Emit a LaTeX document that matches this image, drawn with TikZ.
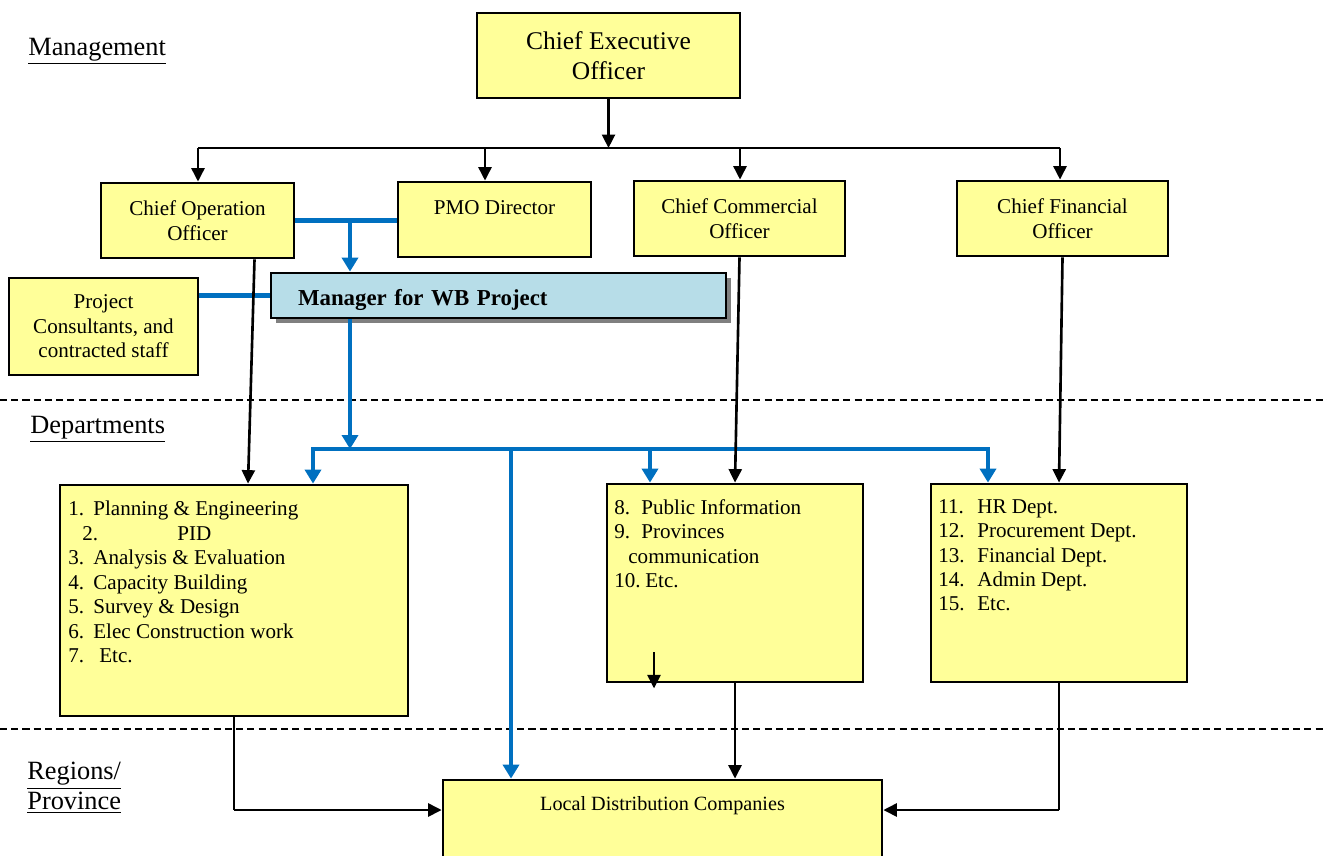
\documentclass[tikz,border=0pt]{standalone}
\usepackage{fontspec}
\setmainfont{Liberation Serif}
\usepackage{tikz}
\usetikzlibrary{arrows.meta,positioning,calc,shadows}
\definecolor{boxyellow}{HTML}{FFFF99}
\definecolor{wbblue}{HTML}{0070C0}
\definecolor{mgrblue}{HTML}{B7DDE8}
\newcommand{\itm}[2][0.5cm]{\makebox[#1][l]{#2}}

\begin{document}
\begin{tikzpicture}[x=0.02cm, y=-0.02cm,
  box/.style={rectangle, draw=black, line width=1.6pt, fill=boxyellow, align=center, inner sep=0pt},
  bigtxt/.style={font=\fontsize{14.5}{17}\selectfont},
  txt/.style={font=\fontsize{12}{14}\selectfont},
  lvl/.style={font=\fontsize{15}{17}\selectfont, anchor=west, inner sep=0pt},
  list/.style={font=\fontsize{12}{13.9}\selectfont, anchor=north west, align=left, inner sep=0pt},
  arrow/.style={-{Triangle[length=2.7mm,width=2.6mm]}, line width=1.5pt, draw=black},
  barrow/.style={-{Triangle[length=2.8mm,width=3.2mm]}, line width=2.8pt, draw=wbblue},
  bline/.style={line width=2.8pt, draw=wbblue},
  thinline/.style={line width=0.6pt, draw=black},
  sepline/.style={line width=1.6pt, dash pattern=on 4pt off 2.4pt}
]
\useasboundingbox (0,0) rectangle (1327,855);
\clip (0,0) rectangle (1327,855);

% level labels
\node[lvl] (mg) at (28,51) {\underline{Management}};
\node[lvl] (dp) at (30,429) {\underline{Departments}};
\node[lvl, align=left] (rg) at (27,788) {\underline{Regions/}\\\underline{Province}};

% separators
\draw[sepline] (0,400) -- (1327,400);
\draw[sepline] (0,729) -- (1327,729);

% management boxes
\node[box, bigtxt, minimum width=5.26cm, minimum height=1.7cm] (ceo) at (608.5,55.5) {Chief Executive\\Officer};
\node[box, txt, minimum width=3.86cm, minimum height=1.5cm] (coo) at (197.5,220.5) {Chief Operation\\Officer};
\node[box, txt, minimum width=3.86cm, minimum height=1.5cm] (pmo) at (494.5,219.5) {PMO Director\\\mbox{}};
\node[box, txt, minimum width=4.22cm, minimum height=1.5cm] (cco) at (739.5,218.5) {Chief Commercial\\Officer};
\node[box, txt, minimum width=4.22cm, minimum height=1.5cm] (cfo) at (1062.5,218.5) {Chief Financial\\Officer};
\node[box, txt, minimum width=3.78cm, minimum height=1.94cm] (cons) at (103.5,326.5) {Project\\Consultants, and\\contracted staff};
\node[box, fill=mgrblue, minimum width=9.1cm, minimum height=0.9cm, text width=8.02cm, align=left,
  font=\fontsize{13}{15}\selectfont\bfseries,
  drop shadow={shadow xshift=0.1cm, shadow yshift=-0.1cm, fill=black!50, opacity=1}] (mgr) at (498.5,295.5) {\raisebox{-0.2cm}[0pt][0pt]{Manager for WB Project}};

% departments
\node[box, minimum width=6.96cm, minimum height=4.62cm] (d1) at (234,600.5) {};
\node[box, minimum width=5.12cm, minimum height=3.96cm] (d2) at (735,583) {};
\node[box, minimum width=5.12cm, minimum height=3.96cm] (d3) at (1059,583) {};
\node[list] (d1t) at (68,501) {\itm{1.}Planning \& Engineering\\
  \hspace*{0.28cm}\itm[1.9cm]{2.}PID\\
  \itm{3.}Analysis \& Evaluation\\
  \itm{4.}Capacity Building\\
  \itm{5.}Survey \& Design\\
  \itm{6.}Elec Construction work\\
  \itm{7.}\hspace*{0.12cm}Etc.};
\node[list] (d2t) at (614,499) {\itm[0.54cm]{8.}Public Information\\
  \itm[0.54cm]{9.}Provinces\\
  \hspace*{0.28cm}communication\\
  \itm[0.62cm]{10.}Etc.};
\node[list] (d3t) at (938,499) {\itm[0.78cm]{11.}HR Dept.\\
  \itm[0.78cm]{12.}Procurement Dept.\\
  \itm[0.78cm]{13.}Financial Dept.\\
  \itm[0.78cm]{14.}Admin Dept.\\
  \itm[0.78cm]{15.}Etc.};

% regions
\node[box, minimum width=8.78cm, minimum height=1.8cm] (ldc) at (662.5,825) {};
\node[font=\fontsize{11.5}{13}\selectfont, inner sep=0pt] (ldct) at (662.5,806) {Local Distribution Companies};

% CEO to officers
\coordinate (bl) at (198,148);
\coordinate (b2) at (485,148);
\coordinate (b3) at (740,148);
\coordinate (br) at (1060,148);
\draw[arrow] (ceo.south) -- (ceo.south |- bl);
\draw[thinline] (bl) -- (br);
\draw[arrow] (bl) -- (bl |- coo.north);
\draw[arrow] (b2) -- (b2 |- pmo.north);
\draw[arrow] (b3) -- (b3 |- cco.north);
\draw[arrow] (br) -- (br |- cfo.north);

% WB project lines
\coordinate (j1) at (350,220);
\coordinate (j2) at (350,449);
\draw[bline] (coo.east) -- (coo.east -| pmo.west);
\draw[barrow] (j1) -- (j1 |- mgr.north);
\draw[bline] (cons.east |- mgr.west) -- (mgr.west);
\draw[barrow] (j1 |- mgr.south) -- (j2);
\coordinate (t1) at (313,449);
\coordinate (t2) at (511,449);
\coordinate (t3) at (650,449);
\coordinate (t4) at (988,449);
\draw[barrow] (t2) -| (t1 |- d1.north);
\draw[barrow] (t2) -| (t4 |- d3.north);
\draw[barrow] (t2) -- (t2 |- ldc.north);
\draw[barrow] (t3) -- (t3 |- d2.north);

% officers to departments
\draw[arrow] ($(coo.south)+(57,0)$) -- ($(d1.north)+(14,0)$);
\draw[arrow] (cco.south) -- (d2.north);
\draw[arrow] (cfo.south) -- (d3.north);

% departments to regions
\coordinate (cl) at (234,810);
\coordinate (cr) at (1059,810);
\coordinate (s1) at (654,652);
\draw[arrow] (s1) -- ($(s1 |- d2.south)+(0,5)$);
\draw[arrow] (d2.south) -- (d2.south |- ldc.north);
\draw[thinline] (d1.south) -- (cl);
\draw[arrow] (cl) -- (cl -| ldc.west);
\draw[thinline] (d3.south) -- (cr);
\draw[arrow] (cr) -- (cr -| ldc.east);
\end{tikzpicture}
\end{document}
